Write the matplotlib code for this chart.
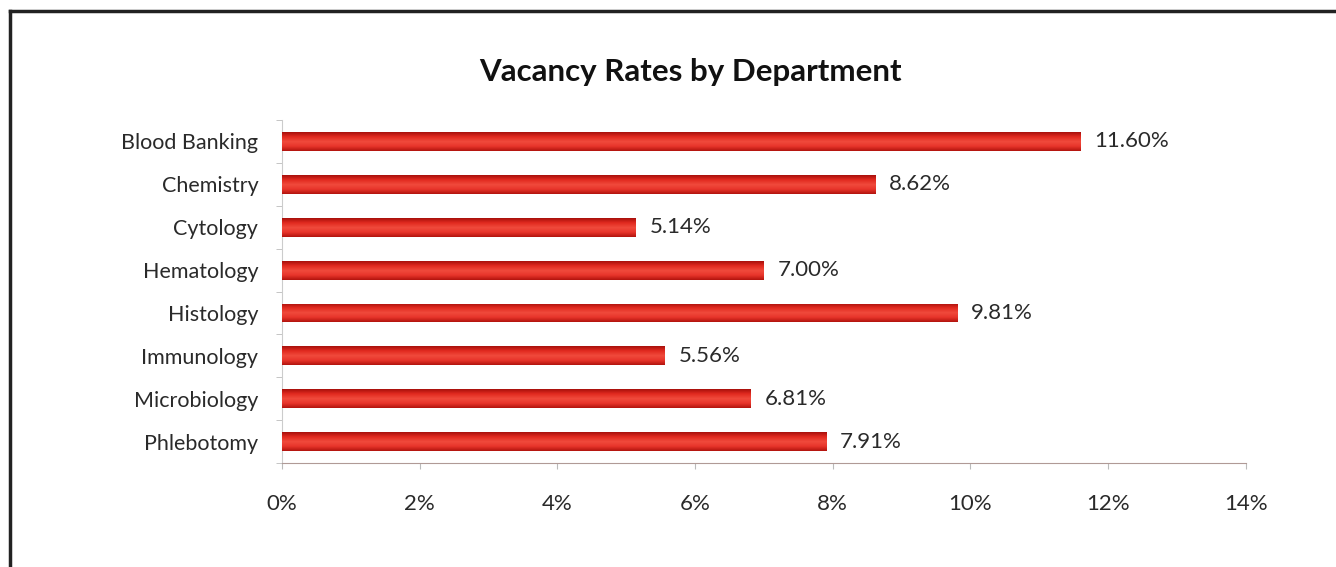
import numpy as np
import matplotlib.pyplot as plt
from matplotlib.ticker import FuncFormatter, MultipleLocator

# Daten
departments = ['Blood Banking', 'Chemistry', 'Cytology', 'Hematology',
               'Histology', 'Immunology', 'Microbiology', 'Phlebotomy']
rates = [11.60, 8.62, 5.14, 7.00, 9.81, 5.56, 6.81, 7.91]

plt.rcParams['font.family'] = ['Lato', 'DejaVu Sans']

fig = plt.figure(figsize=(13.36, 5.67), dpi=100)
ax = fig.add_axes([0.211, 0.1834, 0.7213, 0.6049])

y = np.arange(len(departments))
bars = ax.barh(y, rates, height=0.44, color='#e32b22', edgecolor='none', zorder=2)

# Farbverlauf in den Balken
grad = np.linspace(0, 1, 50).reshape(-1, 1)
cmap = plt.matplotlib.colors.LinearSegmentedColormap.from_list(
    'redgrad', ['#b3140f', '#e8352b', '#f04a3c', '#e22a20', '#a9110c'])
for b in bars:
    x0, y0 = b.get_x(), b.get_y()
    w, h = b.get_width(), b.get_height()
    im = ax.imshow(grad, extent=[x0, x0 + w, y0, y0 + h], aspect='auto',
                   cmap=cmap, zorder=3)
    im.set_clip_path(b)

for yi, r in zip(y, rates):
    ax.text(r + 0.2, yi, f'{r:.2f}%', va='center', ha='left',
            fontsize=16, color='#2a2a2a')

ax.set_xlim(0, 14)
ax.set_ylim(len(departments) - 0.5, -0.5)
ax.xaxis.set_major_locator(MultipleLocator(2))
ax.xaxis.set_major_formatter(FuncFormatter(lambda v, p: f'{v:.0f}%'))
ax.set_yticks(y)
ax.set_yticklabels(departments)
ax.set_yticks(np.arange(-0.5, len(departments)), minor=True)
ax.tick_params(axis='y', which='major', length=0, pad=17, labelsize=15.5, labelcolor='#2a2a2a')
ax.tick_params(axis='y', which='minor', length=4, color='#bbbbbb')
ax.tick_params(axis='x', length=4, color='#bbbbbb', pad=18, labelsize=16, labelcolor='#2a2a2a')

for s in ['top', 'right']:
    ax.spines[s].set_visible(False)
ax.spines['bottom'].set_color('#b09a96')
ax.spines['left'].set_color('#cccccc')

fig.text(0.517, 0.873, 'Vacancy Rates by Department', ha='center', va='center',
         fontsize=22.5, fontweight='bold', color='#111111')

# Rahmen oben und links
fig.add_artist(plt.Line2D([0.0072, 1.0], [0.9806, 0.9806], color='#222222', lw=2.5))
fig.add_artist(plt.Line2D([0.0072, 0.0072], [0.0, 0.9806], color='#222222', lw=2.5))

fig.savefig('out.png', dpi=100)
